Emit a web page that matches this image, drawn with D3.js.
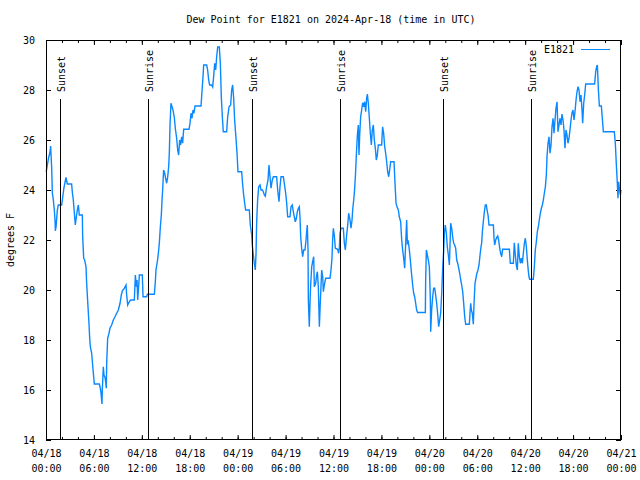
<!DOCTYPE html>
<html>
<head>
<meta charset="utf-8">
<script src="https://cdn.jsdelivr.net/npm/d3@7"></script>
<style>
  html, body { margin: 0; padding: 0; background: #fff; }
  svg { display: block; }
  text { font-family: "DejaVu Sans Mono", monospace; font-size: 10px; fill: #000; }
</style>
</head>
<body>
<svg id="chart" width="640" height="480"></svg>
<script>
// ---- data (hours since 2024-04-18 00:00 UTC, dew point °F) ----
const readings = [
[0.03,24.73],[0.33,25.3],[0.50,25.5],[0.58,25.76],[0.71,24.9],[0.79,23.9],[0.92,23.6],[1.04,23.2],[1.13,22.8],[1.17,22.37],[1.25,22.5],[1.42,23.2],[1.54,23.4],[1.96,23.4],[2.09,23.7],[2.25,24.1],[2.50,24.5],[2.67,24.24],[3.21,24.24],[3.30,23.9],[3.42,23.6],[3.55,23.08],[3.67,22.6],[3.80,22.93],[3.92,23.2],[4.05,23.4],[4.17,23.0],[4.55,23.0],[4.59,22.16],[4.72,21.27],[4.84,21.2],[5.01,20.93],[5.09,20.27],[5.26,19.33],[5.38,18.67],[5.47,18.07],[5.55,17.73],[5.72,17.47],[5.84,17.0],[5.97,16.53],[6.05,16.24],[6.68,16.24],[6.80,16.07],[6.89,15.87],[7.01,15.44],[7.05,16.0],[7.18,16.93],[7.26,16.6],[7.39,16.5],[7.47,16.33],[7.55,16.07],[7.60,17.07],[7.72,18.07],[7.89,18.27],[8.01,18.47],[8.22,18.6],[8.43,18.8],[8.64,18.93],[8.85,19.07],[9.06,19.2],[9.27,19.47],[9.43,19.8],[9.56,19.97],[9.77,20.05],[10.02,20.2],[10.10,19.8],[10.23,19.4],[10.43,19.53],[10.60,19.6],[11.06,19.6],[11.19,20.6],[11.31,20.13],[11.40,20.4],[11.48,19.6],[11.60,20.13],[11.69,20.6],[12.06,20.6],[12.15,19.73],[12.61,19.73],[12.69,19.83],[13.57,19.83],[13.69,20.33],[13.77,20.8],[13.94,21.13],[14.07,21.47],[14.19,21.87],[14.32,22.53],[14.44,23.0],[14.53,23.6],[14.61,24.03],[14.73,24.8],[14.86,24.67],[14.98,24.47],[15.11,24.27],[15.24,24.53],[15.36,24.93],[15.44,25.47],[15.53,26.6],[15.65,27.47],[15.78,27.33],[15.90,27.2],[16.07,26.9],[16.19,26.47],[16.36,26.07],[16.49,25.6],[16.61,25.4],[16.74,26.0],[16.86,25.8],[16.99,26.13],[17.11,25.87],[17.24,26.43],[17.91,26.43],[18.03,26.67],[18.16,27.07],[18.28,26.87],[18.41,27.2],[18.53,27.07],[18.66,27.36],[19.41,27.36],[19.53,27.93],[19.66,28.53],[19.74,29.0],[20.12,29.0],[20.24,28.8],[20.37,28.4],[20.49,28.2],[20.74,28.2],[20.87,28.12],[20.99,28.53],[21.12,29.07],[21.25,28.8],[21.37,29.33],[21.50,29.72],[21.70,29.72],[21.83,29.07],[21.95,27.73],[22.08,26.93],[22.20,26.33],[22.62,26.33],[22.75,26.93],[22.92,27.33],[23.12,27.4],[23.25,28.0],[23.37,28.2],[23.50,27.68],[23.62,26.8],[23.79,26.07],[23.92,25.47],[24.04,24.73],[24.50,24.73],[24.63,24.2],[24.75,23.8],[24.88,23.47],[25.00,23.2],[25.46,23.2],[25.58,22.6],[25.76,22.2],[25.83,21.8],[26.08,21.07],[26.21,20.8],[26.30,21.47],[26.38,22.73],[26.50,23.6],[26.63,24.13],[26.80,24.2],[26.92,24.0],[27.09,24.0],[27.21,23.93],[27.34,23.8],[27.46,23.75],[27.63,24.13],[27.80,24.4],[27.92,25.0],[28.05,24.53],[28.17,24.07],[28.34,24.4],[28.47,24.53],[28.88,24.53],[29.01,24.0],[29.18,23.53],[29.30,24.13],[29.43,24.53],[29.72,24.53],[29.84,24.27],[30.01,23.87],[30.14,23.47],[30.26,22.93],[30.55,22.93],[30.68,23.33],[30.84,23.4],[30.97,23.13],[31.09,22.93],[31.22,22.73],[31.35,22.87],[31.47,23.13],[31.60,23.27],[31.72,23.33],[31.81,22.87],[31.89,22.13],[32.01,21.67],[32.14,21.33],[32.26,21.6],[32.43,21.6],[32.56,22.0],[32.64,22.33],[32.72,22.6],[32.81,21.6],[32.85,19.6],[32.97,18.53],[33.06,19.53],[33.14,20.2],[33.27,20.93],[33.39,21.13],[33.52,21.33],[33.60,20.13],[33.77,20.27],[33.89,20.6],[33.98,20.73],[34.10,20.13],[34.23,18.53],[34.31,19.2],[34.44,20.2],[34.52,20.8],[34.65,20.53],[34.73,19.93],[34.85,20.2],[35.02,20.47],[35.56,20.47],[35.69,20.8],[35.81,21.27],[35.90,22.07],[35.98,22.47],[36.10,22.2],[36.23,21.67],[36.52,21.63],[36.65,21.47],[36.73,21.67],[36.81,22.27],[36.94,22.47],[37.23,22.47],[37.36,21.87],[37.48,21.6],[37.65,22.2],[37.78,22.6],[37.90,23.07],[38.07,22.8],[38.19,22.47],[38.32,22.8],[38.40,23.2],[38.53,23.6],[38.61,23.87],[38.74,24.53],[38.86,25.4],[38.99,26.2],[39.11,26.6],[39.19,25.4],[39.28,26.2],[39.40,26.93],[39.53,27.2],[39.65,27.49],[39.78,27.33],[39.90,27.53],[40.03,27.13],[40.15,27.67],[40.24,27.84],[40.36,27.47],[40.49,26.87],[40.61,26.27],[40.74,25.8],[40.86,26.4],[40.99,26.6],[41.11,26.0],[41.24,25.67],[41.36,25.2],[41.49,25.4],[41.61,25.8],[42.03,25.8],[42.15,26.53],[42.28,26.27],[42.41,25.73],[42.53,25.47],[42.66,25.13],[42.78,24.73],[42.91,24.53],[43.03,24.8],[43.16,25.13],[43.58,25.13],[43.70,24.27],[43.83,23.47],[43.95,23.33],[44.12,23.2],[44.24,22.93],[44.41,22.73],[44.54,22.0],[44.66,21.6],[44.79,21.27],[44.91,20.87],[45.04,21.87],[45.16,22.8],[45.25,21.87],[45.37,21.93],[45.50,21.6],[45.62,21.2],[45.75,20.73],[45.91,20.2],[46.04,19.87],[46.16,19.73],[46.29,19.47],[46.41,19.2],[46.54,19.1],[47.50,19.1],[47.54,20.4],[47.63,21.6],[47.75,21.4],[47.88,21.2],[48.00,20.93],[48.13,19.6],[48.17,18.33],[48.29,19.2],[48.42,19.73],[48.54,20.07],[48.67,20.07],[48.79,19.8],[48.92,19.47],[49.04,19.07],[49.17,18.53],[49.30,18.8],[49.42,19.07],[49.55,19.87],[49.67,20.87],[49.80,21.6],[49.88,22.27],[50.00,22.6],[50.13,22.27],[50.25,21.73],[50.38,21.4],[50.51,21.0],[50.59,21.8],[50.67,22.67],[50.80,22.47],[50.92,22.13],[51.05,21.87],[51.17,21.8],[51.30,21.67],[51.43,21.2],[51.55,21.07],[51.68,20.87],[51.80,20.67],[51.93,20.4],[52.05,20.2],[52.18,19.93],[52.30,19.47],[52.43,18.93],[52.55,18.63],[53.01,18.63],[53.09,19.07],[53.18,19.47],[53.26,19.2],[53.38,19.07],[53.51,18.63],[53.59,19.4],[53.72,20.27],[53.84,20.47],[53.93,20.63],[54.09,20.8],[54.22,21.0],[54.35,21.4],[54.47,21.73],[54.55,21.87],[54.64,22.33],[54.76,22.73],[54.89,23.13],[55.01,23.4],[55.14,23.4],[55.22,23.2],[55.35,23.0],[55.47,22.6],[56.02,22.6],[56.10,22.07],[56.18,21.8],[56.31,22.0],[56.43,22.1],[56.56,22.16],[56.68,22.0],[56.81,21.67],[56.93,21.47],[57.06,21.33],[57.18,21.63],[58.02,21.63],[58.14,21.07],[58.52,21.07],[58.64,21.89],[58.77,21.4],[58.89,21.0],[59.02,20.8],[59.14,21.87],[59.27,21.33],[59.40,21.07],[59.52,21.27],[59.65,21.07],[59.77,21.47],[59.90,21.87],[60.02,22.07],[60.15,21.73],[60.27,21.2],[60.36,20.87],[60.48,20.53],[60.56,20.43],[61.02,20.43],[61.15,20.93],[61.27,21.6],[61.40,21.93],[61.52,22.33],[61.65,22.53],[61.77,22.8],[61.90,23.07],[62.03,23.27],[62.15,23.4],[62.28,23.6],[62.40,23.87],[62.53,24.13],[62.65,24.6],[62.74,25.36],[62.86,25.87],[62.99,26.13],[63.11,25.47],[63.24,25.8],[63.36,26.53],[63.49,26.87],[63.61,26.27],[63.74,26.8],[63.86,27.27],[63.99,27.53],[64.11,26.33],[64.24,26.6],[64.36,26.87],[64.49,26.6],[64.61,27.04],[64.74,26.8],[64.86,26.4],[64.99,25.67],[65.11,26.4],[65.24,26.2],[65.36,25.87],[65.49,26.07],[65.61,26.4],[65.74,26.8],[65.86,27.07],[65.99,27.2],[66.12,26.8],[66.24,27.13],[66.37,27.6],[66.49,27.93],[66.62,28.13],[66.74,28.0],[66.87,27.53],[66.99,27.8],[67.12,27.2],[67.20,26.67],[67.33,27.47],[67.45,27.8],[67.58,28.24],[68.70,28.24],[68.83,28.73],[68.95,28.93],[69.04,29.0],[69.16,28.07],[69.29,27.36],[69.54,27.36],[69.66,26.87],[69.79,26.33],[71.16,26.33],[71.29,25.87],[71.42,25.0],[71.54,24.27],[71.62,23.67],[71.71,24.33],[71.79,24.07],[71.92,23.8],[72.0,24.0]
];
const sunHours  = [1.79, 12.81, 25.83, 36.85, 49.75, 60.77];
const sunLabels = ["Sunset", "Sunrise", "Sunset", "Sunrise", "Sunset", "Sunrise"];
const yTicks = [14, 16, 18, 20, 22, 24, 26, 28, 30];
const seriesName = "E1821";
const titleText = "Dew Point for E1821 on 2024-Apr-18 (time in UTC)";
const yLabelText = "degrees F";

// ---- layout ----
const L = 46, R = 621, T = 40, B = 440;
const lineColor = "#0a88ff";
const t0 = Date.UTC(2024, 3, 18);
const toDate = h => new Date(t0 + h * 3600000);

const svg = d3.select("#chart");
const x = d3.scaleUtc().domain([toDate(0), toDate(72)]).range([L, R]);
const y = d3.scaleLinear().domain([14, 30]).range([B, T]);

const majorTicks = d3.utcHour.every(6).range(toDate(0), toDate(72.01));
const minorTicks = d3.utcHour.every(2).range(toDate(0), toDate(72.01));

function clean(g) { g.select(".domain").remove(); g.selectAll("line").attr("stroke", "#000"); }

// minor ticks bottom/top
svg.append("g").attr("transform", `translate(0,${B})`)
  .call(d3.axisBottom(x).tickValues(minorTicks).tickSize(-3).tickFormat(""))
  .call(clean);
svg.append("g").attr("transform", `translate(0,${T})`)
  .call(d3.axisTop(x).tickValues(minorTicks).tickSize(-3).tickFormat(""))
  .call(clean);
svg.append("g").attr("transform", `translate(0,${T})`)
  .call(d3.axisTop(x).tickValues(majorTicks).tickSize(-5).tickFormat(""))
  .call(clean);

// bottom major with two-line labels
const fmtD = d3.utcFormat("%m/%d"), fmtT = d3.utcFormat("%H:%M");
const bx = svg.append("g").attr("transform", `translate(0,${B})`)
  .call(d3.axisBottom(x).tickValues(majorTicks).tickSize(-5).tickFormat(""))
  .call(clean);
bx.selectAll(".tick text").each(function(d) {
  const t = d3.select(this).attr("dy", null).attr("y", null)
    .style("font-family", null).style("font-size", null);
  t.attr("font-family", null).attr("font-size", null);
  t.append("tspan").attr("x", 0).attr("y", 17).text(fmtD(d));
  t.append("tspan").attr("x", 0).attr("y", 32).text(fmtT(d));
});

// y axes
const ly = svg.append("g").attr("transform", `translate(${L},0)`)
  .call(d3.axisLeft(y).tickValues(yTicks).tickSize(-5).tickPadding(11).tickFormat(d3.format("d")))
  .call(clean);
ly.selectAll("text").attr("font-family", null).attr("font-size", null);
svg.append("g").attr("transform", `translate(${R},0)`)
  .call(d3.axisRight(y).tickValues(yTicks).tickSize(-5).tickFormat(""))
  .call(clean);

// data line
const line = d3.line().x(d => x(toDate(d[0]))).y(d => y(d[1]));
svg.append("path").datum(readings)
  .attr("fill", "none").attr("stroke", lineColor).attr("stroke-width", 1.4)
  .attr("stroke-linejoin", "miter").attr("d", line);

// sunrise / sunset markers
sunHours.forEach((h, i) => {
  const sx = Math.round(x(toDate(h))) + 0.5;
  svg.append("line").attr("x1", sx).attr("x2", sx).attr("y1", B).attr("y2", 99)
    .attr("stroke", "#000").attr("stroke-width", 1);
  svg.append("text").attr("transform", `translate(${sx + 4},92) rotate(-90)`)
    .attr("text-anchor", "start").text(sunLabels[i]);
});

// frame
svg.append("rect").attr("x", L + 0.5).attr("y", T + 0.5).attr("width", R - L - 1).attr("height", B - T - 1)
  .attr("fill", "none").attr("stroke", "#000").attr("stroke-width", 1);

// title & labels
svg.append("text").attr("x", 331).attr("y", 23).attr("text-anchor", "middle").text(titleText);
svg.append("text").attr("transform", "translate(14,240) rotate(-90)").attr("text-anchor", "middle").text(yLabelText);

// legend
svg.append("text").attr("x", 574).attr("y", 53).attr("text-anchor", "end").text(seriesName);
svg.append("line").attr("x1", 581).attr("x2", 610).attr("y1", 49.5).attr("y2", 49.5)
  .attr("stroke", lineColor).attr("stroke-width", 1);
</script>
</body>
</html>
